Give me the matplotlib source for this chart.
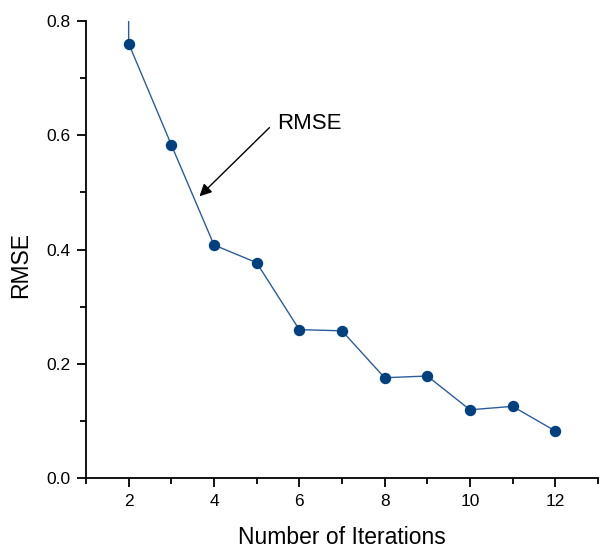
import matplotlib
matplotlib.use("Agg")
import matplotlib.pyplot as plt
from matplotlib.ticker import MultipleLocator

plt.rcParams['font.family'] = ['Liberation Sans', 'DejaVu Sans']

# iterations and RMSE values
# (first point lies above the axis top, so only its line shows)
iterations = [2, 2, 3, 4, 5, 6, 7, 8, 9, 10, 11, 12]
rmse = [0.95, 0.760, 0.583, 0.408, 0.377, 0.260, 0.258, 0.176, 0.179, 0.120, 0.126, 0.083]

fig = plt.figure(figsize=(6.12, 5.57), dpi=100)
ax = fig.add_axes([0.1405, 0.141, 0.8365, 0.822])

ax.plot(iterations, rmse, color='#2b5d9e', lw=1.0, marker='o', markersize=7.2,
        markerfacecolor='#00407f', markeredgecolor='#00407f')

ax.set_xlim(1, 13)
ax.set_ylim(0, 0.8)
ax.xaxis.set_major_locator(MultipleLocator(2))
ax.xaxis.set_minor_locator(MultipleLocator(1))
ax.yaxis.set_major_locator(MultipleLocator(0.2))
ax.yaxis.set_minor_locator(MultipleLocator(0.1))
ax.yaxis.set_major_formatter(matplotlib.ticker.FormatStrFormatter('%.1f'))

for s in ['top', 'right']:
    ax.spines[s].set_visible(False)
for s in ['left', 'bottom']:
    ax.spines[s].set_linewidth(1.3)

ax.tick_params(which='major', length=6.8, width=1.3, labelsize=12.5, pad=4.5)
ax.tick_params(which='minor', length=4, width=1.3)

ax.set_xlabel('Number of Iterations', fontsize=16.5, labelpad=12)
ax.set_ylabel('RMSE', fontsize=16.5)
ax.yaxis.set_label_coords(-0.105, 0.467)

# label text plus arrow pointing at the curve
ax.text(5.48, 0.621, 'RMSE', fontsize=16, va='center', ha='left')
ax.annotate('', xy=(3.66, 0.493), xytext=(5.30, 0.613),
            arrowprops=dict(arrowstyle='-|>', color='black', lw=1.0,
                            mutation_scale=18, shrinkA=0, shrinkB=0))

fig.savefig('out.png', dpi=100)
